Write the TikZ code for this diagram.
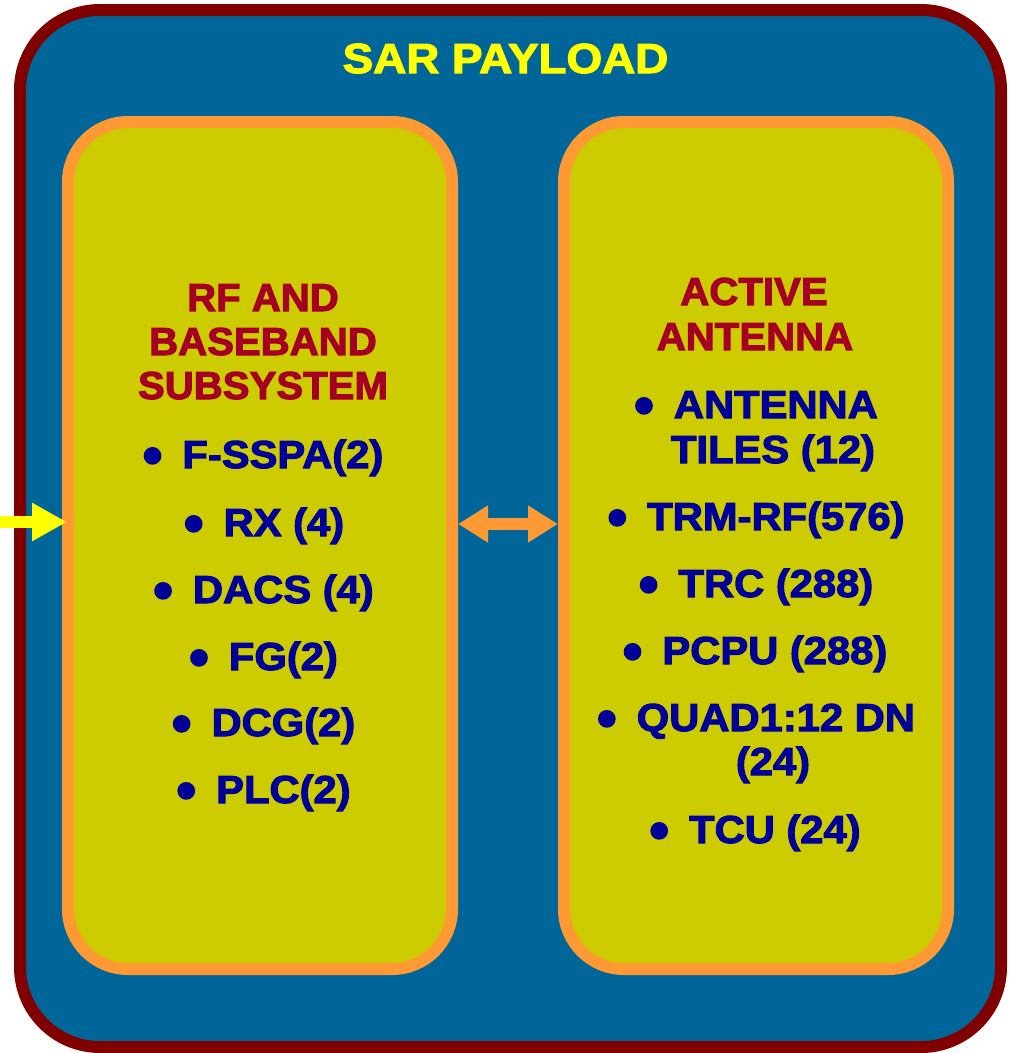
\documentclass[tikz,border=0pt]{standalone}
\usepackage{fontspec}
\setmainfont{Liberation Sans}
\newfontfamily\heavy{Liberation Sans Bold}[FakeBold=2.6]
\usetikzlibrary{arrows.meta}
\definecolor{outerred}{HTML}{800000}
\definecolor{outerblue}{HTML}{006699}
\definecolor{innerfill}{HTML}{CCCC00}
\definecolor{innerline}{HTML}{FF9933}
\definecolor{titleyel}{HTML}{FFFF00}
\definecolor{hdrred}{HTML}{A50021}
\definecolor{itemblue}{HTML}{000099}
\newcommand{\bul}{\raisebox{-6.5pt}{\scalebox{1.45}{\textbullet}}\hspace{20pt}}
\newcommand{\ttl}[1]{\scalebox{1.09}[1]{#1}}
\newcommand{\hdr}[1]{\scalebox{1.03}[1]{#1}}
\newcommand{\itm}[1]{\scalebox{1.07}[1]{#1}}
\begin{document}
\begin{tikzpicture}[x=1pt,y=-1pt,
  outerbox/.style={draw=outerred,fill=outerblue,line width=12pt,rounded corners=80pt,
     minimum width=981pt,minimum height=1037pt,inner sep=0pt},
  innerbox/.style={draw=innerline,fill=innerfill,line width=12pt,rounded corners=60pt,
     minimum width=384pt,minimum height=847pt,inner sep=0pt},
  titletxt/.style={anchor=base,inner sep=0pt,text=titleyel,font=\heavy\fontsize{42}{46}\selectfont},
  hdrtxt/.style={anchor=base,inner sep=0pt,text=hdrred,font=\heavy\fontsize{39}{44}\selectfont},
  itemtxt/.style={anchor=base,inner sep=0pt,text=itemblue,font=\heavy\fontsize{39}{44}\selectfont},
  yelarrow/.style={line width=12pt,draw=titleyel,-{Triangle[width=36pt,length=35pt]}},
  orgarrow/.style={line width=12pt,draw=innerline,{Triangle[width=35pt,length=30pt]}-{Triangle[width=35pt,length=30pt]}}
]
\useasboundingbox (0,0) rectangle (1009,1053);
\node[outerbox] (outer) at (510.5,528.5) {};
\node[innerbox] (lb) at (260,545.5) {};
\node[innerbox] (rb) at (756,545.5) {};

\node[titletxt] (title) at (505.5,73) {\ttl{SAR PAYLOAD}};

\node[hdrtxt] (lh1) at (263,311) {\hdr{RF AND}};
\node[hdrtxt] (lh2) at (263,355) {\hdr{BASEBAND}};
\node[hdrtxt] (lh3) at (263,399) {\hdr{SUBSYSTEM}};

\node[itemtxt] (li1) at (263,468) {\bul\itm{F-SSPA(2)}};
\node[itemtxt] (li2) at (264,536) {\bul\itm{RX (4)}};
\node[itemtxt] (li3) at (263.5,603) {\bul\itm{DACS (4)}};
\node[itemtxt] (li4) at (263.5,670) {\bul\itm{FG(2)}};
\node[itemtxt] (li5) at (263.5,736) {\bul\itm{DCG(2)}};
\node[itemtxt] (li6) at (263.5,803) {\bul\itm{PLC(2)}};

\node[hdrtxt] (rh1) at (754,305) {\hdr{ACTIVE}};
\node[hdrtxt] (rh2) at (755,350) {\hdr{ANTENNA}};

\node[itemtxt] (ri1) at (756,418) {\bul\itm{ANTENNA}};
\node[itemtxt] (ri1b) at (773,463) {\itm{TILES (12)}};
\node[itemtxt] (ri2) at (756,530) {\bul\itm{TRM-RF(576)}};
\node[itemtxt] (ri3) at (756,597) {\bul\itm{TRC (288)}};
\node[itemtxt] (ri4) at (755,664) {\bul\itm{PCPU (288)}};
\node[itemtxt] (ri5) at (756,731) {\bul\itm{QUAD1:12 DN}};
\node[itemtxt] (ri5b) at (773,775) {\itm{(24)}};
\node[itemtxt] (ri6) at (755,843) {\bul\itm{TCU (24)}};

\coordinate (inp) at (0,522);
\draw[yelarrow] (inp) -- ([xshift=5pt]lb.west |- inp);
\draw[orgarrow] ([yshift=21.5pt]lb.east) -- ([yshift=21.5pt]rb.west);
\end{tikzpicture}
\end{document}
